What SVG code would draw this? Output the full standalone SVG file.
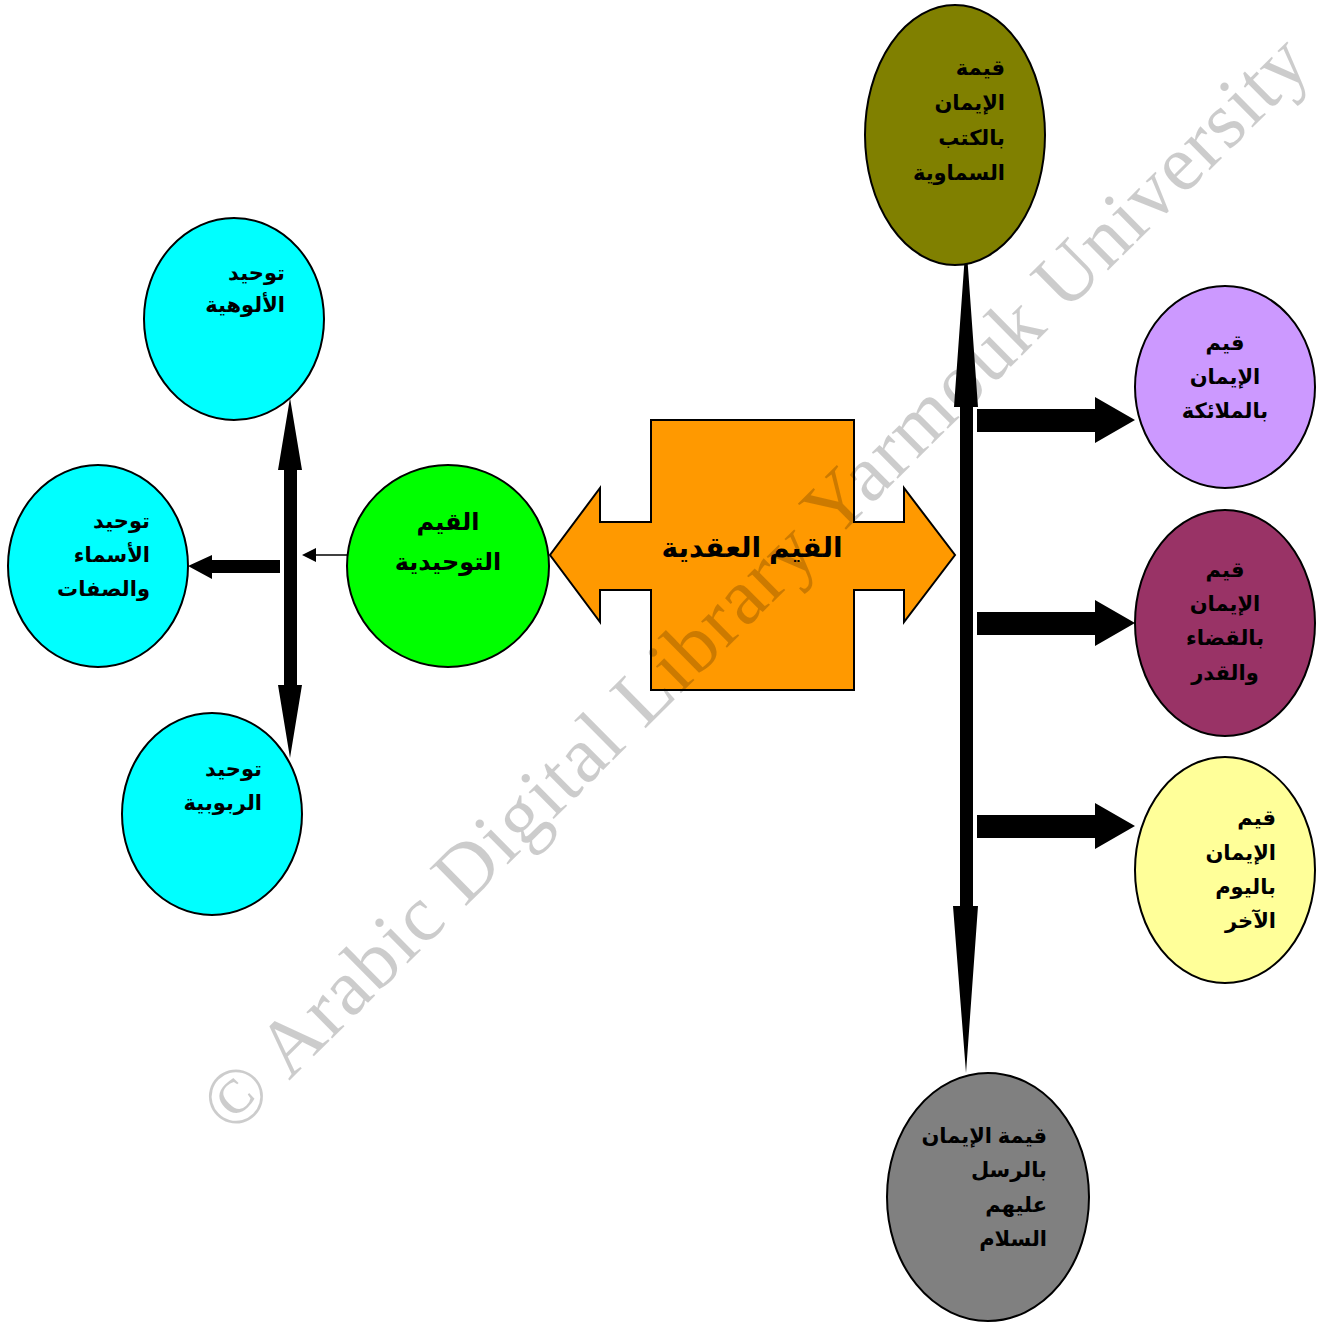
<svg xmlns="http://www.w3.org/2000/svg" width="1322" height="1325" viewBox="0 0 1322 1325">
  <style>
    .node { stroke: #000; stroke-width: 2; }
    .lbl { font-family: "Liberation Sans", "DejaVu Sans", Arial, sans-serif; font-weight: bold; font-size: 21px; fill: #000; }
    .lbl-lg { font-size: 24px; }
    .lbl-xl { font-size: 28px; }
    .r { text-anchor: end; }
    .c { text-anchor: middle; }
    .bar { fill: #000; }
    .wm { font-family: "Liberation Serif", "Times New Roman", serif; font-size: 80px; fill: #000; fill-opacity: 0.2; }
  </style>
  <rect width="1322" height="1325" fill="#fff"/>

  <!-- connectors -->
  <g id="connectors">
    <!-- right spine: double-headed tall arrow -->
    <polygon class="bar" points="966,240 978,407 973,407 973,906 978,906 966,1073 953,906 960,906 960,407 954,407"/>
    <!-- branches to the right-hand nodes -->
    <polygon class="bar" points="977,409 1095,409 1095,397 1135,420 1095,443 1095,432 977,432"/>
    <polygon class="bar" points="977,612 1095,612 1095,600 1135,623 1095,646 1095,635 977,635"/>
    <polygon class="bar" points="977,815 1095,815 1095,803 1135,826 1095,849 1095,838 977,838"/>
    <!-- left spine: double-headed arrow -->
    <polygon class="bar" points="290,398 302,470 297,470 297,685 302,685 290,758 278,685 284,685 284,470 278,470"/>
    <!-- branch to the middle left node -->
    <polygon class="bar" points="280,560 212,560 212,555 188,566 212,579 212,573 280,573"/>
    <!-- thin link from the green node -->
    <line x1="347" y1="555" x2="312" y2="555" stroke="#000" stroke-width="1.5"/>
    <polygon class="bar" points="302,555 316,548 316,562"/>
  </g>

  <!-- central double arrow -->
  <g id="n-core">
    <polygon class="node" fill="#FF9900" points="651,420 854,420 854,522 904,522 904,488 955,555 904,622 904,590 854,590 854,690 651,690 651,590 600,590 600,622 550,555 600,488 600,522 651,522"/>
    <text class="lbl lbl-xl c" x="752" y="557">القيم العقدية</text>
  </g>

  <g id="n-tawhid">
    <ellipse class="node" fill="#00FF00" cx="448" cy="566" rx="101" ry="101"/>
    <text class="lbl lbl-lg c" x="448" y="530">القيم</text>
    <text class="lbl lbl-lg c" x="448" y="570">التوحيدية</text>
  </g>

  <g id="n-uluhiyya">
    <ellipse class="node" fill="#00FFFF" cx="234" cy="319" rx="90" ry="101"/>
    <text class="lbl r" x="285" y="280">توحيد</text>
    <text class="lbl r" x="285" y="312">الألوهية</text>
  </g>

  <g id="n-asma">
    <ellipse class="node" fill="#00FFFF" cx="98" cy="566" rx="90" ry="101"/>
    <text class="lbl r" x="150" y="528">توحيد</text>
    <text class="lbl r" x="150" y="562">الأسماء</text>
    <text class="lbl r" x="150" y="596">والصفات</text>
  </g>

  <g id="n-rububiyya">
    <ellipse class="node" fill="#00FFFF" cx="212" cy="814" rx="90" ry="101"/>
    <text class="lbl r" x="262" y="776">توحيد</text>
    <text class="lbl r" x="262" y="810">الربوبية</text>
  </g>

  <g id="n-kutub">
    <ellipse class="node" fill="#808000" cx="955" cy="135" rx="90" ry="130"/>
    <text class="lbl r" x="1005" y="75">قيمة</text>
    <text class="lbl r" x="1005" y="110">الإيمان</text>
    <text class="lbl r" x="1005" y="145">بالكتب</text>
    <text class="lbl r" x="1005" y="180">السماوية</text>
  </g>

  <g id="n-malaika">
    <ellipse class="node" fill="#CC99FF" cx="1225" cy="387" rx="90" ry="101"/>
    <text class="lbl c" x="1225" y="350">قيم</text>
    <text class="lbl c" x="1225" y="384">الإيمان</text>
    <text class="lbl c" x="1225" y="418">بالملائكة</text>
  </g>

  <g id="n-qadar">
    <ellipse class="node" fill="#993366" cx="1225" cy="623" rx="90" ry="113"/>
    <text class="lbl c" x="1225" y="577">قيم</text>
    <text class="lbl c" x="1225" y="611">الإيمان</text>
    <text class="lbl c" x="1225" y="645">بالقضاء</text>
    <text class="lbl c" x="1225" y="680">والقدر</text>
  </g>

  <g id="n-yawm">
    <ellipse class="node" fill="#FFFF99" cx="1225" cy="870" rx="90" ry="113"/>
    <text class="lbl r" x="1276" y="825">قيم</text>
    <text class="lbl r" x="1276" y="860">الإيمان</text>
    <text class="lbl r" x="1276" y="894">باليوم</text>
    <text class="lbl r" x="1276" y="928">الآخر</text>
  </g>

  <g id="n-rusul">
    <ellipse class="node" fill="#808080" cx="988" cy="1197" rx="101" ry="124"/>
    <text class="lbl r" x="1047" y="1143">قيمة الإيمان</text>
    <text class="lbl r" x="1047" y="1177">بالرسل</text>
    <text class="lbl r" x="1047" y="1212">عليهم</text>
    <text class="lbl r" x="1047" y="1246">السلام</text>
  </g>

  <!-- diagonal copyright line across the page -->
  <text class="wm" x="0" y="0" text-anchor="middle" textLength="1520" transform="translate(773,602) rotate(-44.7)">© Arabic Digital Library Yarmouk University</text>
</svg>
